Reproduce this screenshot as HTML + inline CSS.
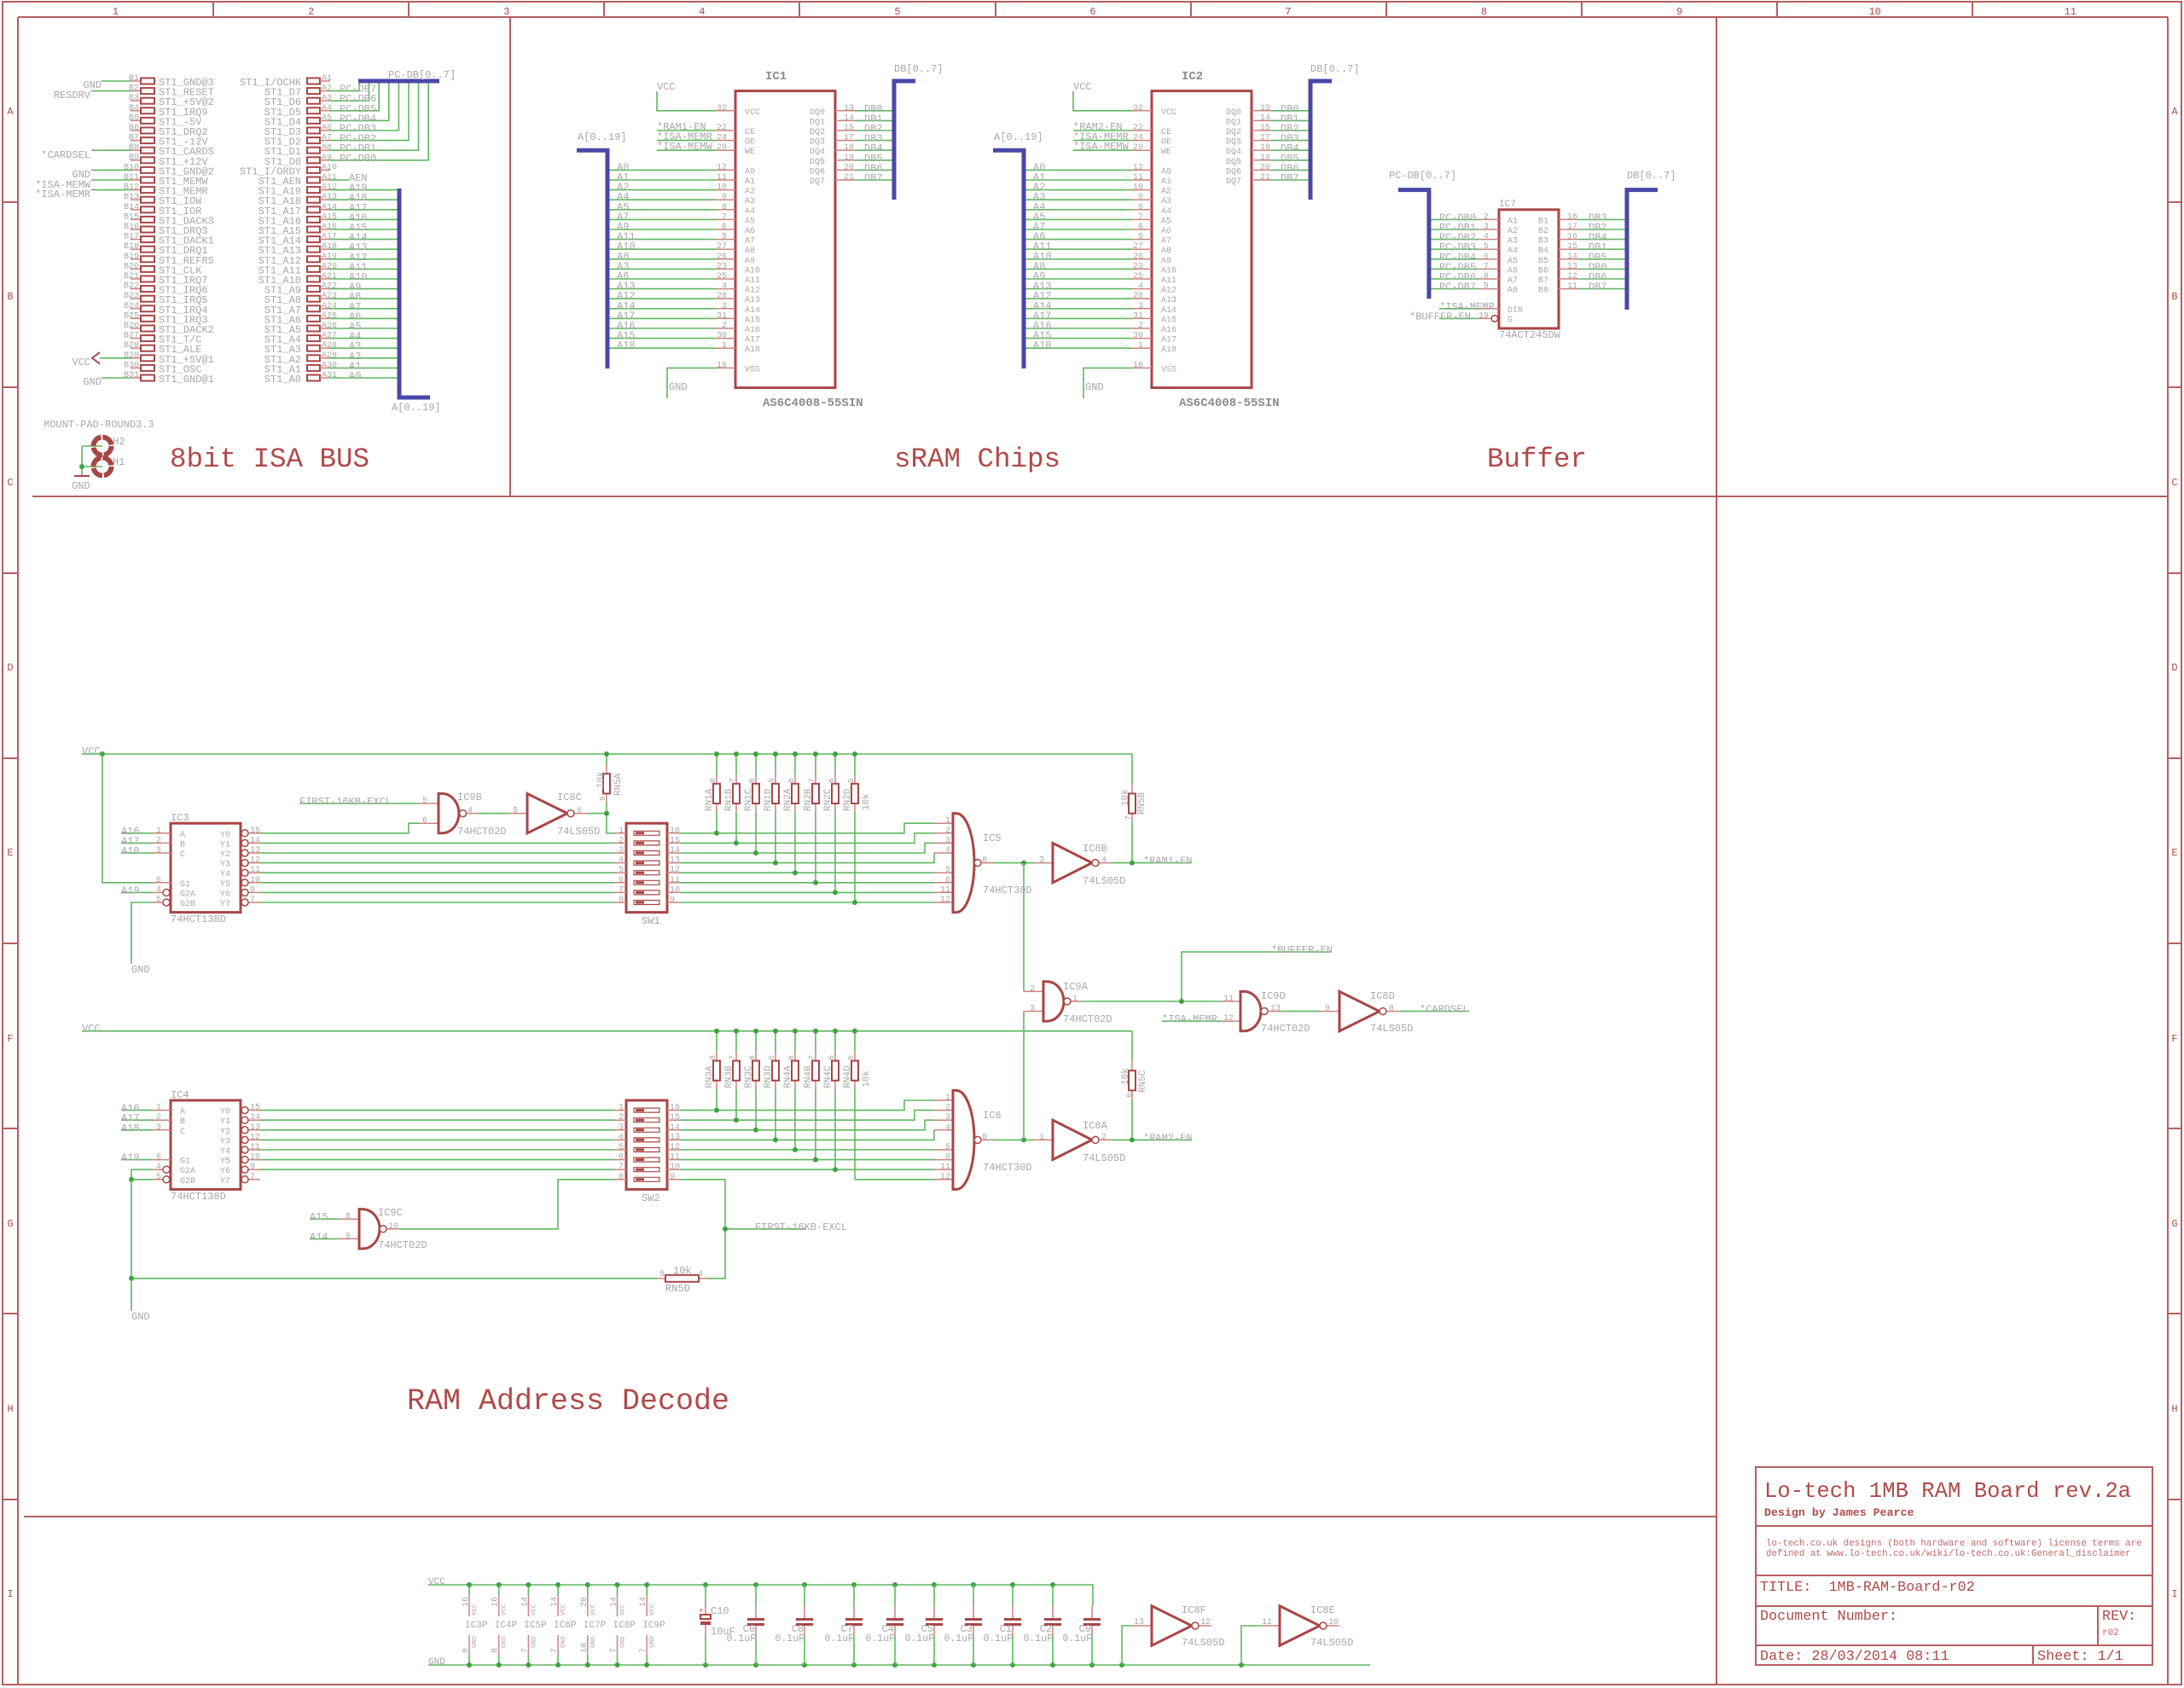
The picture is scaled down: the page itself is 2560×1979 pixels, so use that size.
<!DOCTYPE html>
<html><head><meta charset="utf-8"><style>
html,body{margin:0;padding:0;background:#fff;width:2560px;height:1979px;overflow:hidden}
svg{display:block}
text{font-family:"Liberation Mono",monospace;fill:#a8a8a8;font-size:12px}
.fr{stroke:#b65f5f;stroke-width:2;fill:none}
.sy{stroke:#a84646;stroke-width:3;fill:none}
.sy2{stroke:#a84646;stroke-width:2;fill:none}
.bb{stroke:#a84646;stroke-width:1.5;fill:#fff}
.pn{stroke:#cc8484;stroke-width:1.5;fill:none}
.nt{stroke:#5fb85f;stroke-width:1.6;fill:none}
.bs{stroke:#4848a8;stroke-width:5;fill:none}
.dt{fill:#3fa33f}
.rf{fill:#a84646}
.swi{stroke:#a84646;stroke-width:1.2;fill:none}
.s7{font-size:7.5px}.s9{font-size:9.5px}.s10{font-size:10px}.s11{font-size:11px}.s14{font-size:14px}
.r{text-anchor:end}.m{text-anchor:middle}
.red{fill:#b04a4a}
.dk{fill:#8c8c8c;font-weight:bold}
</style></head><body>
<svg width="2560" height="1979" viewBox="0 0 2560 1979" xmlns="http://www.w3.org/2000/svg">
<rect x="0" y="0" width="2560" height="1979" fill="#fff"/>
<defs>
<g id="ir"><line x1="153" y1="0" x2="165" y2="0" class="pn"/><rect x="165" y="-3.5" width="16" height="7" class="sy2"/><rect x="360" y="-3.5" width="15" height="7" class="sy2"/><line x1="375" y1="0" x2="387" y2="0" class="pn"/></g>
<g id="sr">
<rect x="862" y="106.6" width="117" height="348" class="sy"/>
<path class="pn" d="M839,129.8H862M839,153H862M839,164.6H862M839,176.2H862M839,199.4H862M839,211H862M839,222.6H862M839,234.2H862M839,245.8H862M839,257.4H862M839,269H862M839,280.6H862M839,292.2H862M839,303.8H862M839,315.4H862M839,327H862M839,338.6H862M839,350.2H862M839,361.8H862M839,373.4H862M839,385H862M839,396.6H862M839,408.2H862M839,431.4H862M979,129.8H1002M979,141.4H1002M979,153H1002M979,164.6H1002M979,176.2H1002M979,187.8H1002M979,199.4H1002M979,211H1002"/>
<path class="nt" d="M712,199.4H839M712,211H839M712,222.6H839M712,234.2H839M712,245.8H839M712,257.4H839M712,269H839M712,280.6H839M712,292.2H839M712,303.8H839M712,315.4H839M712,327H839M712,338.6H839M712,350.2H839M712,361.8H839M712,373.4H839M712,385H839M712,396.6H839M712,408.2H839M770,107V129.8H839M770,153H839M770,164.6H839M770,176.2H839M839,431.4H782V467M1002,129.8H1048M1002,141.4H1048M1002,153H1048M1002,164.6H1048M1002,176.2H1048M1002,187.8H1048M1002,199.4H1048M1002,211H1048"/>
<path class="bs" d="M676,176.2H712V432M1073,95H1048V234"/>
</g>
<g id="dh">
<rect x="734" y="965.2" width="48" height="104.4" class="sy"/>
<path class="swi" d="M743,974.3h30v5h-30zM743,985.9h30v5h-30zM743,997.5h30v5h-30zM743,1009.1h30v5h-30zM743,1020.7h30v5h-30zM743,1032.3h30v5h-30zM743,1043.9h30v5h-30zM743,1055.5h30v5h-30z"/>
<path class="rf" d="M745,975.3h10v3h-10zM745,986.9h10v3h-10zM745,998.5h10v3h-10zM745,1010.1h10v3h-10zM745,1021.7h10v3h-10zM745,1033.3h10v3h-10zM745,1044.9h10v3h-10zM745,1056.5h10v3h-10z"/>
<path class="pn" d="M720,976.8H734M720,988.4H734M720,1000H734M720,1011.6H734M720,1023.2H734M720,1034.8H734M720,1046.4H734M720,1058H734M782,976.8H797M782,988.4H797M782,1000H797M782,1011.6H797M782,1023.2H797M782,1034.8H797M782,1046.4H797M782,1058H797"/>
<path class="nt" d="M840,884V908.8M840,952V976.8M863,884V908.8M863,952V988.4M886,884V908.8M886,952V1000M909,884V908.8M909,952V1011.6M932,884V908.8M932,952V1023.2M956,884V908.8M956,952V1034.8M979,884V908.8M979,952V1046.4M1002,884V908.8M1002,952V1058"/>
<path class="pn" d="M840,908.8V918.8M840,942V952M863,908.8V918.8M863,942V952M886,908.8V918.8M886,942V952M909,908.8V918.8M909,942V952M932,908.8V918.8M932,942V952M956,908.8V918.8M956,942V952M979,908.8V918.8M979,942V952M1002,908.8V918.8M1002,942V952"/>
<rect x="836" y="918.8" width="8" height="23.2" class="sy2"/><rect x="859" y="918.8" width="8" height="23.2" class="sy2"/><rect x="882" y="918.8" width="8" height="23.2" class="sy2"/><rect x="905" y="918.8" width="8" height="23.2" class="sy2"/><rect x="928" y="918.8" width="8" height="23.2" class="sy2"/><rect x="952" y="918.8" width="8" height="23.2" class="sy2"/><rect x="975" y="918.8" width="8" height="23.2" class="sy2"/><rect x="998" y="918.8" width="8" height="23.2" class="sy2"/>
<path class="nt" d="M797,976.8H1060V965.2H1095M797,988.4H1072V976.8H1095M797,1000H1084V988.4H1095M797,1011.6H1095V1000M797,1023.2H1095M797,1034.8H1095M797,1046.4H1095"/>
<path class="pn" d="M1095,965.2H1117M1095,976.8H1117M1095,988.4H1117M1095,1000H1117M1095,1023.2H1117M1095,1034.8H1117M1095,1046.4H1117M1095,1058H1117"/>
<path class="sy" d="M1117,953.6H1121A21,58 0 0 1 1121,1069.6H1117Z"/>
<circle cx="1146" cy="1011.6" r="4" class="bb"/>
<path class="pn" d="M1150,1011.6H1164M1212,1011.6H1234M1288,1011.6H1303"/>
<path class="nt" d="M1164,1011.6H1212M1303,1011.6H1397"/>
<path class="sy" d="M1234,988.4L1234,1034.8L1280,1011.6Z"/>
<circle cx="1284" cy="1011.6" r="4" class="bb"/>
<path class="nt" d="M1327,884V920.4M1327,963.6V1011.6"/>
<path class="pn" d="M1327,920.4V930.4M1327,953.6V963.6"/>
<rect x="1323" y="930.4" width="8" height="23.2" class="sy2"/>
<path class="nt" d="M96,884H1327"/>
<rect x="200" y="965.2" width="82" height="104.4" class="sy"/>
<path class="pn" d="M179,976.8H200M179,988.4H200M179,1000H200M179,1034.8H200M179,1046.4H191M179,1058H191M291,976.8H305M291,988.4H305M291,1000H305M291,1011.6H305M291,1023.2H305M291,1034.8H305M291,1046.4H305M291,1058H305"/>
<circle cx="195" cy="1046.4" r="4" class="bb"/><circle cx="195" cy="1058" r="4" class="bb"/>
<circle cx="287" cy="976.8" r="4" class="bb"/><circle cx="287" cy="988.4" r="4" class="bb"/><circle cx="287" cy="1000" r="4" class="bb"/><circle cx="287" cy="1011.6" r="4" class="bb"/><circle cx="287" cy="1023.2" r="4" class="bb"/><circle cx="287" cy="1034.8" r="4" class="bb"/><circle cx="287" cy="1046.4" r="4" class="bb"/><circle cx="287" cy="1058" r="4" class="bb"/>
<path class="nt" d="M305,988.4H720M305,1000H720M305,1011.6H720M305,1023.2H720M305,1034.8H720M305,1046.4H720"/>
<g class="dt"><circle cx="840" cy="884" r="3"/><circle cx="863" cy="884" r="3"/><circle cx="886" cy="884" r="3"/><circle cx="909" cy="884" r="3"/><circle cx="932" cy="884" r="3"/><circle cx="956" cy="884" r="3"/><circle cx="979" cy="884" r="3"/><circle cx="1002" cy="884" r="3"/>
<circle cx="840" cy="976.8" r="3"/><circle cx="863" cy="988.4" r="3"/><circle cx="886" cy="1000" r="3"/><circle cx="909" cy="1011.6" r="3"/><circle cx="932" cy="1023.2" r="3"/><circle cx="956" cy="1034.8" r="3"/><circle cx="979" cy="1046.4" r="3"/>
<circle cx="1200" cy="1011.6" r="3"/><circle cx="1327" cy="1011.6" r="3"/></g>
</g>
</defs>

<!-- FRAME -->
<rect x="3" y="2" width="2554" height="1973" class="fr"/>
<path class="fr" d="M21,20H2541M21,20V1975M2541,20V1975M250,2V20M479,2V20M708,2V20M937,2V20M1167,2V20M1396,2V20M1625,2V20M1854,2V20M2083,2V20M2312,2V20M3,237H21M3,454H21M3,672H21M3,889H21M3,1106H21M3,1323H21M3,1540H21M3,1758H21M2541,237H2557M2541,454H2557M2541,672H2557M2541,889H2557M2541,1106H2557M2541,1323H2557M2541,1540H2557M2541,1758H2557"/>
<path class="fr" d="M598,20V582M38,582H2541M2012,20V1975M28,1778H2012"/>
<g class="red m" style="font-size:17px">
<text x="135.5" y="17" class="red m">1</text><text x="364.7" y="17" class="red m">2</text><text x="593.8" y="17" class="red m">3</text><text x="822.9" y="17" class="red m">4</text><text x="1052" y="17" class="red m">5</text><text x="1281" y="17" class="red m">6</text><text x="1510" y="17" class="red m">7</text><text x="1739.5" y="17" class="red m">8</text><text x="1968.6" y="17" class="red m">9</text><text x="2197.7" y="17" class="red m">10</text><text x="2426.8" y="17" class="red m">11</text>
</g>
<g style="font-size:17px">
<text x="12" y="134" class="red m">A</text><text x="12" y="351" class="red m">B</text><text x="12" y="569" class="red m">C</text><text x="12" y="786" class="red m">D</text><text x="12" y="1003" class="red m">E</text><text x="12" y="1221" class="red m">F</text><text x="12" y="1438" class="red m">G</text><text x="12" y="1655" class="red m">H</text><text x="12" y="1872" class="red m">I</text>
<text x="2549" y="134" class="red m">A</text><text x="2549" y="351" class="red m">B</text><text x="2549" y="569" class="red m">C</text><text x="2549" y="786" class="red m">D</text><text x="2549" y="1003" class="red m">E</text><text x="2549" y="1221" class="red m">F</text><text x="2549" y="1438" class="red m">G</text><text x="2549" y="1655" class="red m">H</text><text x="2549" y="1872" class="red m">I</text>
</g>

<!-- TITLE BLOCK -->
<rect x="2058" y="1720" width="465" height="232" class="fr"/>
<path class="fr" d="M2058,1789H2523M2058,1847H2523M2058,1883H2523M2058,1929H2523M2459,1883V1929M2383,1929V1952"/>
<text x="2068" y="1755" class="red" style="font-size:25.6px">Lo-tech 1MB RAM Board rev.2a</text>
<text x="2068" y="1777" class="red" style="font-size:13.3px;font-weight:bold">Design by James Pearce</text>
<text x="2070" y="1812" style="font-size:10.8px;fill:#c06a6a">lo-tech.co.uk designs (both hardware and software) license terms are</text>
<text x="2070" y="1824" style="font-size:10.8px;fill:#c06a6a">defined at www.lo-tech.co.uk/wiki/lo-tech.co.uk:General_disclaimer</text>
<text x="2063" y="1865" class="red" style="font-size:16.8px">TITLE:&#160; 1MB-RAM-Board-r02</text>
<text x="2063" y="1899" class="red" style="font-size:16.8px">Document Number:</text>
<text x="2464" y="1899" class="red" style="font-size:16.8px">REV:</text>
<text x="2464" y="1917" style="font-size:11px;fill:#c06a6a">r02</text>
<text x="2063" y="1946" class="red" style="font-size:16.8px">Date: 28/03/2014 08:11</text>
<text x="2388" y="1946" class="red" style="font-size:16.8px">Sheet: 1/1</text>

<!-- SECTION TITLES -->
<text x="199" y="547" class="red" style="font-size:32.5px">8bit ISA BUS</text>
<text x="1048" y="547" class="red" style="font-size:32.5px">sRAM Chips</text>
<text x="1743" y="547" class="red" style="font-size:32.5px">Buffer</text>
<text x="477" y="1652" class="red" style="font-size:35px">RAM Address Decode</text>

<!-- ISA CONNECTOR -->
<use href="#ir" y="95"/><use href="#ir" y="106.6"/><use href="#ir" y="118.2"/><use href="#ir" y="129.8"/><use href="#ir" y="141.4"/><use href="#ir" y="153"/><use href="#ir" y="164.6"/><use href="#ir" y="176.2"/><use href="#ir" y="187.8"/><use href="#ir" y="199.4"/><use href="#ir" y="211"/><use href="#ir" y="222.6"/><use href="#ir" y="234.2"/><use href="#ir" y="245.8"/><use href="#ir" y="257.4"/><use href="#ir" y="269"/><use href="#ir" y="280.6"/><use href="#ir" y="292.2"/><use href="#ir" y="303.8"/><use href="#ir" y="315.4"/><use href="#ir" y="327"/><use href="#ir" y="338.6"/><use href="#ir" y="350.2"/><use href="#ir" y="361.8"/><use href="#ir" y="373.4"/><use href="#ir" y="385"/><use href="#ir" y="396.6"/><use href="#ir" y="408.2"/><use href="#ir" y="419.8"/><use href="#ir" y="431.4"/><use href="#ir" y="443"/>
<path class="nt" d="M119,95H153M107,106.6H153M107,176.2H153M107,199.4H153M107,211H153M107,222.6H153M117,419.8H153M119,443H153"/>
<polyline points="117,413 108,419.8 117,426.6" class="sy2"/>
<text x="119" y="103" class="r">GND</text>
<text x="106" y="115" class="r">RESDRV</text>
<text x="106" y="185" class="r">*CARDSEL</text>
<text x="106" y="208" class="r">GND</text>
<text x="106" y="220" class="r">*ISA-MEMW</text>
<text x="106" y="231" class="r">*ISA-MEMR</text>
<text x="106" y="428" class="r">VCC</text>
<text x="119" y="451" class="r">GND</text>
<path class="nt" d="M387,106.6H421V95M387,118.2H432.6V95M387,129.8H444.2V95M387,141.4H455.8V95M387,153H467.4V95M387,164.6H479V95M387,176.2H490.6V95M387,187.8H502.2V95M387,211H409M387,222.6H468M387,234.2H468M387,245.8H468M387,257.4H468M387,269H468M387,280.6H468M387,292.2H468M387,303.8H468M387,315.4H468M387,327H468M387,338.6H468M387,350.2H468M387,361.8H468M387,373.4H468M387,385H468M387,396.6H468M387,408.2H468M387,419.8H468M387,431.4H468M387,443H468"/>
<path class="bs" d="M420,95H515M468,221V466H504"/>
<text x="455" y="91">PC-DB[0..7]</text>
<text x="459" y="481">A[0..19]</text>
<g transform="translate(0,95)"><text x="163" y="-1" class="s10 r">B1</text><text x="186" y="5">ST1_GND@3</text><text x="353" y="5" class="r">ST1_I/OCHK</text><text x="377" y="-1" class="s10">A1</text></g>
<g transform="translate(0,106.6)"><text x="163" y="-1" class="s10 r">B2</text><text x="186" y="5">ST1_RESET</text><text x="353" y="5" class="r">ST1_D7</text><text x="377" y="-1" class="s10">A2</text><text x="398" y="1">PC-DB7</text></g>
<g transform="translate(0,118.2)"><text x="163" y="-1" class="s10 r">B3</text><text x="186" y="5">ST1_+5V@2</text><text x="353" y="5" class="r">ST1_D6</text><text x="377" y="-1" class="s10">A3</text><text x="398" y="1">PC-DB6</text></g>
<g transform="translate(0,129.8)"><text x="163" y="-1" class="s10 r">B4</text><text x="186" y="5">ST1_IRQ9</text><text x="353" y="5" class="r">ST1_D5</text><text x="377" y="-1" class="s10">A4</text><text x="398" y="1">PC-DB5</text></g>
<g transform="translate(0,141.4)"><text x="163" y="-1" class="s10 r">B5</text><text x="186" y="5">ST1_-5V</text><text x="353" y="5" class="r">ST1_D4</text><text x="377" y="-1" class="s10">A5</text><text x="398" y="1">PC-DB4</text></g>
<g transform="translate(0,153)"><text x="163" y="-1" class="s10 r">B6</text><text x="186" y="5">ST1_DRQ2</text><text x="353" y="5" class="r">ST1_D3</text><text x="377" y="-1" class="s10">A6</text><text x="398" y="1">PC-DB3</text></g>
<g transform="translate(0,164.6)"><text x="163" y="-1" class="s10 r">B7</text><text x="186" y="5">ST1_-12V</text><text x="353" y="5" class="r">ST1_D2</text><text x="377" y="-1" class="s10">A7</text><text x="398" y="1">PC-DB2</text></g>
<g transform="translate(0,176.2)"><text x="163" y="-1" class="s10 r">B8</text><text x="186" y="5">ST1_CARDS</text><text x="353" y="5" class="r">ST1_D1</text><text x="377" y="-1" class="s10">A8</text><text x="398" y="1">PC-DB1</text></g>
<g transform="translate(0,187.8)"><text x="163" y="-1" class="s10 r">B9</text><text x="186" y="5">ST1_+12V</text><text x="353" y="5" class="r">ST1_D0</text><text x="377" y="-1" class="s10">A9</text><text x="398" y="1">PC-DB0</text></g>
<g transform="translate(0,199.4)"><text x="163" y="-1" class="s10 r">B10</text><text x="186" y="5">ST1_GND@2</text><text x="353" y="5" class="r">ST1_I/ORDY</text><text x="377" y="-1" class="s10">A10</text></g>
<g transform="translate(0,211)"><text x="163" y="-1" class="s10 r">B11</text><text x="186" y="5">ST1_MEMW</text><text x="353" y="5" class="r">ST1_AEN</text><text x="377" y="-1" class="s10">A11</text><text x="409" y="1">AEN</text></g>
<g transform="translate(0,222.6)"><text x="163" y="-1" class="s10 r">B12</text><text x="186" y="5">ST1_MEMR</text><text x="353" y="5" class="r">ST1_A19</text><text x="377" y="-1" class="s10">A12</text><text x="409" y="1">A19</text></g>
<g transform="translate(0,234.2)"><text x="163" y="-1" class="s10 r">B13</text><text x="186" y="5">ST1_IOW</text><text x="353" y="5" class="r">ST1_A18</text><text x="377" y="-1" class="s10">A13</text><text x="409" y="1">A18</text></g>
<g transform="translate(0,245.8)"><text x="163" y="-1" class="s10 r">B14</text><text x="186" y="5">ST1_IOR</text><text x="353" y="5" class="r">ST1_A17</text><text x="377" y="-1" class="s10">A14</text><text x="409" y="1">A17</text></g>
<g transform="translate(0,257.4)"><text x="163" y="-1" class="s10 r">B15</text><text x="186" y="5">ST1_DACK3</text><text x="353" y="5" class="r">ST1_A16</text><text x="377" y="-1" class="s10">A15</text><text x="409" y="1">A16</text></g>
<g transform="translate(0,269)"><text x="163" y="-1" class="s10 r">B16</text><text x="186" y="5">ST1_DRQ3</text><text x="353" y="5" class="r">ST1_A15</text><text x="377" y="-1" class="s10">A16</text><text x="409" y="1">A15</text></g>
<g transform="translate(0,280.6)"><text x="163" y="-1" class="s10 r">B17</text><text x="186" y="5">ST1_DACK1</text><text x="353" y="5" class="r">ST1_A14</text><text x="377" y="-1" class="s10">A17</text><text x="409" y="1">A14</text></g>
<g transform="translate(0,292.2)"><text x="163" y="-1" class="s10 r">B18</text><text x="186" y="5">ST1_DRQ1</text><text x="353" y="5" class="r">ST1_A13</text><text x="377" y="-1" class="s10">A18</text><text x="409" y="1">A13</text></g>
<g transform="translate(0,303.8)"><text x="163" y="-1" class="s10 r">B19</text><text x="186" y="5">ST1_REFRS</text><text x="353" y="5" class="r">ST1_A12</text><text x="377" y="-1" class="s10">A19</text><text x="409" y="1">A12</text></g>
<g transform="translate(0,315.4)"><text x="163" y="-1" class="s10 r">B20</text><text x="186" y="5">ST1_CLK</text><text x="353" y="5" class="r">ST1_A11</text><text x="377" y="-1" class="s10">A20</text><text x="409" y="1">A11</text></g>
<g transform="translate(0,327)"><text x="163" y="-1" class="s10 r">B21</text><text x="186" y="5">ST1_IRQ7</text><text x="353" y="5" class="r">ST1_A10</text><text x="377" y="-1" class="s10">A21</text><text x="409" y="1">A10</text></g>
<g transform="translate(0,338.6)"><text x="163" y="-1" class="s10 r">B22</text><text x="186" y="5">ST1_IRQ6</text><text x="353" y="5" class="r">ST1_A9</text><text x="377" y="-1" class="s10">A22</text><text x="409" y="1">A9</text></g>
<g transform="translate(0,350.2)"><text x="163" y="-1" class="s10 r">B23</text><text x="186" y="5">ST1_IRQ5</text><text x="353" y="5" class="r">ST1_A8</text><text x="377" y="-1" class="s10">A23</text><text x="409" y="1">A8</text></g>
<g transform="translate(0,361.8)"><text x="163" y="-1" class="s10 r">B24</text><text x="186" y="5">ST1_IRQ4</text><text x="353" y="5" class="r">ST1_A7</text><text x="377" y="-1" class="s10">A24</text><text x="409" y="1">A7</text></g>
<g transform="translate(0,373.4)"><text x="163" y="-1" class="s10 r">B25</text><text x="186" y="5">ST1_IRQ3</text><text x="353" y="5" class="r">ST1_A6</text><text x="377" y="-1" class="s10">A25</text><text x="409" y="1">A6</text></g>
<g transform="translate(0,385)"><text x="163" y="-1" class="s10 r">B26</text><text x="186" y="5">ST1_DACK2</text><text x="353" y="5" class="r">ST1_A5</text><text x="377" y="-1" class="s10">A26</text><text x="409" y="1">A5</text></g>
<g transform="translate(0,396.6)"><text x="163" y="-1" class="s10 r">B27</text><text x="186" y="5">ST1_T/C</text><text x="353" y="5" class="r">ST1_A4</text><text x="377" y="-1" class="s10">A27</text><text x="409" y="1">A4</text></g>
<g transform="translate(0,408.2)"><text x="163" y="-1" class="s10 r">B28</text><text x="186" y="5">ST1_ALE</text><text x="353" y="5" class="r">ST1_A3</text><text x="377" y="-1" class="s10">A28</text><text x="409" y="1">A3</text></g>
<g transform="translate(0,419.8)"><text x="163" y="-1" class="s10 r">B29</text><text x="186" y="5">ST1_+5V@1</text><text x="353" y="5" class="r">ST1_A2</text><text x="377" y="-1" class="s10">A29</text><text x="409" y="1">A2</text></g>
<g transform="translate(0,431.4)"><text x="163" y="-1" class="s10 r">B30</text><text x="186" y="5">ST1_OSC</text><text x="353" y="5" class="r">ST1_A1</text><text x="377" y="-1" class="s10">A30</text><text x="409" y="1">A1</text></g>
<g transform="translate(0,443)"><text x="163" y="-1" class="s10 r">B31</text><text x="186" y="5">ST1_GND@1</text><text x="353" y="5" class="r">ST1_A0</text><text x="377" y="-1" class="s10">A31</text><text x="409" y="1">A0</text></g>

<!-- MOUNT PAD -->
<text x="51" y="501">MOUNT-PAD-ROUND3.3</text>
<path class="nt" d="M96,523H120M96,547H120M96,523V558"/>
<circle cx="120" cy="523" r="10.5" style="stroke:#a84646;stroke-width:6;fill:none;stroke-dasharray:14.5 2"/>
<circle cx="120" cy="547" r="10.5" style="stroke:#a84646;stroke-width:6;fill:none;stroke-dasharray:14.5 2"/>
<circle cx="96" cy="547" r="3" class="dt"/>
<line x1="87" y1="558" x2="105" y2="558" class="sy2"/>
<text x="84" y="573">GND</text>
<text x="132" y="521">H2</text>
<text x="132" y="545">H1</text>

<!-- SRAM IC1 -->
<use href="#sr"/>
<g>
<text x="897" y="93" class="s14 dk">IC1</text>
<text x="894" y="476" class="s14 dk">AS6C4008-55SIN</text>
<text x="770" y="105">VCC</text>
<text x="770" y="152">*RAM1-EN</text>
<text x="770" y="163.6">*ISA-MEMR</text>
<text x="770" y="175.2">*ISA-MEMW</text>
<text x="784" y="457">GND</text>
<text x="677" y="164">A[0..19]</text>
<text x="1048" y="84">DB[0..7]</text>
<text class="s10 r"><tspan x="852" y="128.8">32</tspan><tspan x="852" y="152">22</tspan><tspan x="852" y="163.6">24</tspan><tspan x="852" y="175.2">29</tspan><tspan x="852" y="198.4">12</tspan><tspan x="852" y="210">11</tspan><tspan x="852" y="221.6">10</tspan><tspan x="852" y="233.2">9</tspan><tspan x="852" y="244.8">8</tspan><tspan x="852" y="256.4">7</tspan><tspan x="852" y="268">6</tspan><tspan x="852" y="279.6">5</tspan><tspan x="852" y="291.2">27</tspan><tspan x="852" y="302.8">26</tspan><tspan x="852" y="314.4">23</tspan><tspan x="852" y="326">25</tspan><tspan x="852" y="337.6">4</tspan><tspan x="852" y="349.2">28</tspan><tspan x="852" y="360.8">3</tspan><tspan x="852" y="372.4">31</tspan><tspan x="852" y="384">2</tspan><tspan x="852" y="395.6">30</tspan><tspan x="852" y="407.2">1</tspan><tspan x="852" y="430.4">16</tspan></text>
<text><tspan x="723" y="199.4">A0</tspan><tspan x="723" y="211">A1</tspan><tspan x="723" y="222.6">A2</tspan><tspan x="723" y="234.2">A4</tspan><tspan x="723" y="245.8">A5</tspan><tspan x="723" y="257.4">A7</tspan><tspan x="723" y="269">A9</tspan><tspan x="723" y="280.6">A11</tspan><tspan x="723" y="292.2">A10</tspan><tspan x="723" y="303.8">A8</tspan><tspan x="723" y="315.4">A3</tspan><tspan x="723" y="327">A6</tspan><tspan x="723" y="338.6">A13</tspan><tspan x="723" y="350.2">A12</tspan><tspan x="723" y="361.8">A14</tspan><tspan x="723" y="373.4">A17</tspan><tspan x="723" y="385">A16</tspan><tspan x="723" y="396.6">A15</tspan><tspan x="723" y="408.2">A18</tspan></text>
<text class="s10"><tspan x="873" y="133.8">VCC</tspan><tspan x="873" y="157">CE</tspan><tspan x="873" y="168.6">OE</tspan><tspan x="873" y="180.2">WE</tspan><tspan x="873" y="203.4">A0</tspan><tspan x="873" y="215">A1</tspan><tspan x="873" y="226.6">A2</tspan><tspan x="873" y="238.2">A3</tspan><tspan x="873" y="249.8">A4</tspan><tspan x="873" y="261.4">A5</tspan><tspan x="873" y="273">A6</tspan><tspan x="873" y="284.6">A7</tspan><tspan x="873" y="296.2">A8</tspan><tspan x="873" y="307.8">A9</tspan><tspan x="873" y="319.4">A10</tspan><tspan x="873" y="331">A11</tspan><tspan x="873" y="342.6">A12</tspan><tspan x="873" y="354.2">A13</tspan><tspan x="873" y="365.8">A14</tspan><tspan x="873" y="377.4">A15</tspan><tspan x="873" y="389">A16</tspan><tspan x="873" y="400.6">A17</tspan><tspan x="873" y="412.2">A18</tspan><tspan x="873" y="435.4">VSS</tspan></text>
<text class="s10"><tspan x="949" y="133.8">DQ0</tspan><tspan x="949" y="145.4">DQ1</tspan><tspan x="949" y="157">DQ2</tspan><tspan x="949" y="168.6">DQ3</tspan><tspan x="949" y="180.2">DQ4</tspan><tspan x="949" y="191.8">DQ5</tspan><tspan x="949" y="203.4">DQ6</tspan><tspan x="949" y="215">DQ7</tspan></text>
<text class="s10"><tspan x="989" y="128.8">13</tspan><tspan x="989" y="140.4">14</tspan><tspan x="989" y="152">15</tspan><tspan x="989" y="163.6">17</tspan><tspan x="989" y="175.2">18</tspan><tspan x="989" y="186.8">19</tspan><tspan x="989" y="198.4">20</tspan><tspan x="989" y="210">21</tspan></text>
<text><tspan x="1013" y="130.8">DB0</tspan><tspan x="1013" y="142.4">DB1</tspan><tspan x="1013" y="154">DB2</tspan><tspan x="1013" y="165.6">DB3</tspan><tspan x="1013" y="177.2">DB4</tspan><tspan x="1013" y="188.8">DB5</tspan><tspan x="1013" y="200.4">DB6</tspan><tspan x="1013" y="212">DB7</tspan></text>
</g>

<!-- SRAM IC2 -->
<use href="#sr" x="488"/>
<g transform="translate(488,0)">
<text x="897" y="93" class="s14 dk">IC2</text>
<text x="894" y="476" class="s14 dk">AS6C4008-55SIN</text>
<text x="770" y="105">VCC</text>
<text x="770" y="152">*RAM2-EN</text>
<text x="770" y="163.6">*ISA-MEMR</text>
<text x="770" y="175.2">*ISA-MEMW</text>
<text x="784" y="457">GND</text>
<text x="677" y="164">A[0..19]</text>
<text x="1048" y="84">DB[0..7]</text>
<text class="s10 r"><tspan x="852" y="128.8">32</tspan><tspan x="852" y="152">22</tspan><tspan x="852" y="163.6">24</tspan><tspan x="852" y="175.2">29</tspan><tspan x="852" y="198.4">12</tspan><tspan x="852" y="210">11</tspan><tspan x="852" y="221.6">10</tspan><tspan x="852" y="233.2">9</tspan><tspan x="852" y="244.8">8</tspan><tspan x="852" y="256.4">7</tspan><tspan x="852" y="268">6</tspan><tspan x="852" y="279.6">5</tspan><tspan x="852" y="291.2">27</tspan><tspan x="852" y="302.8">26</tspan><tspan x="852" y="314.4">23</tspan><tspan x="852" y="326">25</tspan><tspan x="852" y="337.6">4</tspan><tspan x="852" y="349.2">28</tspan><tspan x="852" y="360.8">3</tspan><tspan x="852" y="372.4">31</tspan><tspan x="852" y="384">2</tspan><tspan x="852" y="395.6">30</tspan><tspan x="852" y="407.2">1</tspan><tspan x="852" y="430.4">16</tspan></text>
<text><tspan x="723" y="199.4">A0</tspan><tspan x="723" y="211">A1</tspan><tspan x="723" y="222.6">A2</tspan><tspan x="723" y="234.2">A3</tspan><tspan x="723" y="245.8">A4</tspan><tspan x="723" y="257.4">A5</tspan><tspan x="723" y="269">A7</tspan><tspan x="723" y="280.6">A6</tspan><tspan x="723" y="292.2">A11</tspan><tspan x="723" y="303.8">A10</tspan><tspan x="723" y="315.4">A8</tspan><tspan x="723" y="327">A9</tspan><tspan x="723" y="338.6">A13</tspan><tspan x="723" y="350.2">A12</tspan><tspan x="723" y="361.8">A14</tspan><tspan x="723" y="373.4">A17</tspan><tspan x="723" y="385">A16</tspan><tspan x="723" y="396.6">A15</tspan><tspan x="723" y="408.2">A18</tspan></text>
<text class="s10"><tspan x="873" y="133.8">VCC</tspan><tspan x="873" y="157">CE</tspan><tspan x="873" y="168.6">OE</tspan><tspan x="873" y="180.2">WE</tspan><tspan x="873" y="203.4">A0</tspan><tspan x="873" y="215">A1</tspan><tspan x="873" y="226.6">A2</tspan><tspan x="873" y="238.2">A3</tspan><tspan x="873" y="249.8">A4</tspan><tspan x="873" y="261.4">A5</tspan><tspan x="873" y="273">A6</tspan><tspan x="873" y="284.6">A7</tspan><tspan x="873" y="296.2">A8</tspan><tspan x="873" y="307.8">A9</tspan><tspan x="873" y="319.4">A10</tspan><tspan x="873" y="331">A11</tspan><tspan x="873" y="342.6">A12</tspan><tspan x="873" y="354.2">A13</tspan><tspan x="873" y="365.8">A14</tspan><tspan x="873" y="377.4">A15</tspan><tspan x="873" y="389">A16</tspan><tspan x="873" y="400.6">A17</tspan><tspan x="873" y="412.2">A18</tspan><tspan x="873" y="435.4">VSS</tspan></text>
<text class="s10"><tspan x="949" y="133.8">DQ0</tspan><tspan x="949" y="145.4">DQ1</tspan><tspan x="949" y="157">DQ2</tspan><tspan x="949" y="168.6">DQ3</tspan><tspan x="949" y="180.2">DQ4</tspan><tspan x="949" y="191.8">DQ5</tspan><tspan x="949" y="203.4">DQ6</tspan><tspan x="949" y="215">DQ7</tspan></text>
<text class="s10"><tspan x="989" y="128.8">13</tspan><tspan x="989" y="140.4">14</tspan><tspan x="989" y="152">15</tspan><tspan x="989" y="163.6">17</tspan><tspan x="989" y="175.2">18</tspan><tspan x="989" y="186.8">19</tspan><tspan x="989" y="198.4">20</tspan><tspan x="989" y="210">21</tspan></text>
<text><tspan x="1013" y="130.8">DB0</tspan><tspan x="1013" y="142.4">DB1</tspan><tspan x="1013" y="154">DB2</tspan><tspan x="1013" y="165.6">DB3</tspan><tspan x="1013" y="177.2">DB4</tspan><tspan x="1013" y="188.8">DB5</tspan><tspan x="1013" y="200.4">DB6</tspan><tspan x="1013" y="212">DB7</tspan></text>
</g>

<!-- BUFFER IC7 -->
<rect x="1757" y="245.8" width="70" height="139.2" class="sy"/>
<path class="pn" d="M1733,257.4H1757M1733,269H1757M1733,280.6H1757M1733,292.2H1757M1733,303.8H1757M1733,315.4H1757M1733,327H1757M1733,338.6H1757M1733,361.8H1757M1733,373.4H1748M1827,257.4H1850M1827,269H1850M1827,280.6H1850M1827,292.2H1850M1827,303.8H1850M1827,315.4H1850M1827,327H1850M1827,338.6H1850"/>
<circle cx="1752" cy="373.4" r="3.8" class="bb"/>
<path class="nt" d="M1675,257.4H1733M1675,269H1733M1675,280.6H1733M1675,292.2H1733M1675,303.8H1733M1675,315.4H1733M1675,327H1733M1675,338.6H1733M1687,361.8H1733M1687,373.4H1733M1850,257.4H1907M1850,269H1907M1850,280.6H1907M1850,292.2H1907M1850,303.8H1907M1850,315.4H1907M1850,327H1907M1850,338.6H1907"/>
<path class="bs" d="M1639,222.6H1675V350.2M1943,222.6H1907V363"/>
<text x="1628" y="209">PC-DB[0..7]</text>
<text x="1907" y="209">DB[0..7]</text>
<text x="1757" y="242" class="s11">IC7</text>
<text x="1757" y="396">74ACT245DW</text>
<text class="s10"><tspan x="1739" y="256.4">2</tspan><tspan x="1739" y="268">3</tspan><tspan x="1739" y="279.6">4</tspan><tspan x="1739" y="291.2">5</tspan><tspan x="1739" y="302.8">6</tspan><tspan x="1739" y="314.4">7</tspan><tspan x="1739" y="326">8</tspan><tspan x="1739" y="337.6">9</tspan><tspan x="1733" y="372.4">19</tspan></text>
<text><tspan x="1687" y="258.4">PC-DB0</tspan><tspan x="1687" y="270">PC-DB1</tspan><tspan x="1687" y="281.6">PC-DB2</tspan><tspan x="1687" y="293.2">PC-DB3</tspan><tspan x="1687" y="304.8">PC-DB4</tspan><tspan x="1687" y="316.4">PC-DB5</tspan><tspan x="1687" y="328">PC-DB6</tspan><tspan x="1687" y="339.6">PC-DB7</tspan><tspan x="1687" y="362.8">*ISA-MEMR</tspan><tspan x="1652" y="374.4">*BUFFER-EN</tspan></text>
<text class="s10"><tspan x="1767" y="261.4">A1</tspan><tspan x="1767" y="273">A2</tspan><tspan x="1767" y="284.6">A3</tspan><tspan x="1767" y="296.2">A4</tspan><tspan x="1767" y="307.8">A5</tspan><tspan x="1767" y="319.4">A6</tspan><tspan x="1767" y="331">A7</tspan><tspan x="1767" y="342.6">A8</tspan><tspan x="1767" y="365.8">DIR</tspan><tspan x="1767" y="377.4">G</tspan><tspan x="1803" y="261.4">B1</tspan><tspan x="1803" y="273">B2</tspan><tspan x="1803" y="284.6">B3</tspan><tspan x="1803" y="296.2">B4</tspan><tspan x="1803" y="307.8">B5</tspan><tspan x="1803" y="319.4">B6</tspan><tspan x="1803" y="331">B7</tspan><tspan x="1803" y="342.6">B8</tspan></text>
<text class="s10"><tspan x="1837" y="256.4">18</tspan><tspan x="1837" y="268">17</tspan><tspan x="1837" y="279.6">16</tspan><tspan x="1837" y="291.2">15</tspan><tspan x="1837" y="302.8">14</tspan><tspan x="1837" y="314.4">13</tspan><tspan x="1837" y="326">12</tspan><tspan x="1837" y="337.6">11</tspan></text>
<text><tspan x="1862" y="258.4">DB3</tspan><tspan x="1862" y="270">DB2</tspan><tspan x="1862" y="281.6">DB4</tspan><tspan x="1862" y="293.2">DB1</tspan><tspan x="1862" y="304.8">DB5</tspan><tspan x="1862" y="316.4">DB0</tspan><tspan x="1862" y="328">DB6</tspan><tspan x="1862" y="339.6">DB7</tspan></text>

<!-- DECODE TOP HALF -->
<use href="#dh"/>
<circle cx="120" cy="884" r="3" class="dt"/>
<path class="nt" d="M120,884V1034.8H179M142,976.8H179M142,988.4H179M142,1000H179M142,1046.4H179M179,1058H154V1130M305,976.8H479V965.2H491M305,1058H720M351,942H491M560,953.6H597M688,953.6H711M711,884V897.2M711,940.4V976.8H720M797,1058H1095M1200,1011.6V1162.4"/>
<path class="pn" d="M491,942H514M491,965.2H514M546.5,953.6H560M597,953.6H618M673,953.6H688M711,897.2V907.2M711,930.4V940.4"/>
<path class="sy" d="M514,930.4H518A20,23.2 0 0 1 518,976.8H514Z"/>
<circle cx="542.5" cy="953.6" r="4" class="bb"/>
<path class="sy" d="M618,930.4L618,976.8L665,953.6Z"/>
<circle cx="669" cy="953.6" r="4" class="bb"/>
<rect x="707" y="907.2" width="8" height="23.2" class="sy2"/>
<g class="dt"><circle cx="711" cy="884" r="3"/><circle cx="711" cy="953.6" r="3"/><circle cx="1002" cy="1058" r="3"/></g>
<text x="96" y="884">VCC</text>
<text x="154" y="1140">GND</text>
<text x="200" y="962">IC3</text>
<text x="200" y="1081">74HCT138D</text>
<text class="s10"><tspan x="211" y="980.8">A</tspan><tspan x="211" y="992.4">B</tspan><tspan x="211" y="1004">C</tspan><tspan x="211" y="1038.8">G1</tspan><tspan x="211" y="1050.4">G2A</tspan><tspan x="211" y="1062">G2B</tspan><tspan x="258" y="980.8">Y0</tspan><tspan x="258" y="992.4">Y1</tspan><tspan x="258" y="1004">Y2</tspan><tspan x="258" y="1015.6">Y3</tspan><tspan x="258" y="1027.2">Y4</tspan><tspan x="258" y="1038.8">Y5</tspan><tspan x="258" y="1050.4">Y6</tspan><tspan x="258" y="1062">Y7</tspan></text>
<text class="s10"><tspan x="183" y="975.8">1</tspan><tspan x="183" y="987.4">2</tspan><tspan x="183" y="999">3</tspan><tspan x="183" y="1033.8">6</tspan><tspan x="183" y="1045.4">4</tspan><tspan x="183" y="1057">5</tspan><tspan x="293" y="975.8">15</tspan><tspan x="293" y="987.4">14</tspan><tspan x="293" y="999">13</tspan><tspan x="293" y="1010.6">12</tspan><tspan x="293" y="1022.2">11</tspan><tspan x="293" y="1033.8">10</tspan><tspan x="293" y="1045.4">9</tspan><tspan x="293" y="1057">7</tspan></text>
<text><tspan x="142" y="977.8">A16</tspan><tspan x="142" y="989.4">A17</tspan><tspan x="142" y="1001">A18</tspan><tspan x="142" y="1047.4">A19</tspan></text>
<text x="351" y="943">FIRST-16KB-EXCL</text>
<text class="s10"><tspan x="495" y="941">5</tspan><tspan x="495" y="964.2">6</tspan><tspan x="548" y="952.6">4</tspan><tspan x="601" y="952.6">5</tspan><tspan x="676" y="952.6">6</tspan></text>
<text x="536" y="938">IC9B</text><text x="536" y="978">74HCT02D</text>
<text x="653" y="938">IC8C</text><text x="653" y="978">74LS05D</text>
<text transform="translate(707,924) rotate(-90)" class="s11">10k</text>
<text transform="translate(727,933) rotate(-90)" class="s11">RN5A</text>
<text transform="translate(709,939) rotate(-90)" class="s9">8</text>
<text class="s10 r"><tspan x="731" y="975.8">1</tspan><tspan x="731" y="987.4">2</tspan><tspan x="731" y="999">3</tspan><tspan x="731" y="1010.6">4</tspan><tspan x="731" y="1022.2">5</tspan><tspan x="731" y="1033.8">6</tspan><tspan x="731" y="1045.4">7</tspan><tspan x="731" y="1057">8</tspan></text>
<text class="s10"><tspan x="785" y="975.8">16</tspan><tspan x="785" y="987.4">15</tspan><tspan x="785" y="999">14</tspan><tspan x="785" y="1010.6">13</tspan><tspan x="785" y="1022.2">12</tspan><tspan x="785" y="1033.8">11</tspan><tspan x="785" y="1045.4">10</tspan><tspan x="785" y="1057">9</tspan></text>
<text x="752" y="1083">SW1</text>
<text transform="translate(834,951) rotate(-90)" class="s11">RN1A</text>
<text transform="translate(857,951) rotate(-90)" class="s11">RN1B</text>
<text transform="translate(880,951) rotate(-90)" class="s11">RN1C</text>
<text transform="translate(903,951) rotate(-90)" class="s11">RN1D</text>
<text transform="translate(926,951) rotate(-90)" class="s11">RN2A</text>
<text transform="translate(950,951) rotate(-90)" class="s11">RN2B</text>
<text transform="translate(973,951) rotate(-90)" class="s11">RN2C</text>
<text transform="translate(996,951) rotate(-90)" class="s11">RN2D</text>
<text transform="translate(1018,950) rotate(-90)" class="s11">10k</text>
<text transform="translate(838,918) rotate(-90)" class="s9">8</text><text transform="translate(861,918) rotate(-90)" class="s9">7</text><text transform="translate(884,918) rotate(-90)" class="s9">6</text><text transform="translate(907,918) rotate(-90)" class="s9">5</text><text transform="translate(930,918) rotate(-90)" class="s9">8</text><text transform="translate(954,918) rotate(-90)" class="s9">7</text><text transform="translate(977,918) rotate(-90)" class="s9">6</text><text transform="translate(1000,918) rotate(-90)" class="s9">5</text>
<text x="1152" y="986">IC5</text><text x="1152" y="1047">74HCT30D</text>
<text class="s10 r"><tspan x="1114" y="964.2">1</tspan><tspan x="1114" y="975.8">2</tspan><tspan x="1114" y="987.4">3</tspan><tspan x="1114" y="999">4</tspan><tspan x="1114" y="1022.2">5</tspan><tspan x="1114" y="1033.8">6</tspan><tspan x="1114" y="1045.4">11</tspan><tspan x="1114" y="1057">12</tspan></text>
<text class="s10"><tspan x="1151" y="1010.6">8</tspan><tspan x="1218" y="1010.6">3</tspan><tspan x="1291" y="1010.6">4</tspan></text>
<text x="1269" y="998">IC8B</text><text x="1269" y="1036">74LS05D</text>
<text x="1340" y="1012.6">*RAM1-EN</text>
<text transform="translate(1322,945) rotate(-90)" class="s11">10k</text>
<text transform="translate(1341,955) rotate(-90)" class="s11">RN5B</text>
<text transform="translate(1325,962) rotate(-90)" class="s9">7</text>

<!-- MIDDLE GATES -->
<path class="pn" d="M1200,1162.4H1223M1200,1185.6H1223M1255,1174H1267M1432,1174H1454M1432,1197.2H1454M1487,1185.6H1501M1548,1185.6H1570M1625,1185.6H1641"/>
<path class="sy" d="M1223,1150.8H1227A20,23.2 0 0 1 1227,1197.2H1223Z"/>
<circle cx="1251" cy="1174" r="4" class="bb"/>
<path class="nt" d="M1267,1174H1432M1385,1174V1116H1559M1362,1197.2H1432M1501,1185.6H1548M1641,1185.6H1722"/>
<circle cx="1385" cy="1174" r="3" class="dt"/>
<path class="sy" d="M1454,1162.4H1458A20,23.2 0 0 1 1458,1208.8H1454Z"/>
<circle cx="1482" cy="1185.6" r="4" class="bb"/>
<path class="sy" d="M1570,1162.4L1570,1208.8L1617,1185.6Z"/>
<circle cx="1621" cy="1185.6" r="4" class="bb"/>
<text class="s10"><tspan x="1207" y="1161.4">2</tspan><tspan x="1207" y="1184.6">3</tspan><tspan x="1257" y="1173">1</tspan><tspan x="1434" y="1173">11</tspan><tspan x="1434" y="1196.2">12</tspan><tspan x="1489" y="1184.6">13</tspan><tspan x="1553" y="1184.6">9</tspan><tspan x="1628" y="1184.6">8</tspan></text>
<text x="1246" y="1160">IC9A</text><text x="1246" y="1198">74HCT02D</text>
<text x="1478" y="1171">IC9D</text><text x="1478" y="1209">74HCT02D</text>
<text x="1606" y="1171">IC8D</text><text x="1606" y="1209">74LS05D</text>
<text x="1490" y="1117">*BUFFER-EN</text>
<text x="1362" y="1198.2">*ISA-MEMR</text>
<text x="1664" y="1186.6">*CARDSEL</text>

<!-- DECODE BOTTOM HALF -->
<use href="#dh" y="324.8"/>
<path class="nt" d="M142,1301.6H179M142,1313.2H179M142,1324.8H179M142,1359.6H179M179,1371.2H154V1537M154,1382.8H179M305,1301.6H720M1002,1382.8H1095M1200,1185.6V1336.4M363,1429.2H397M363,1452.4H397M468,1440.8H654V1382.8H720M797,1382.8H850V1498.8H829M850,1440.8H945M770,1498.8H154"/>
<path class="pn" d="M397,1429.2H421M397,1452.4H421M453,1440.8H468M829,1498.8H819M780,1498.8H770"/>
<path class="sy" d="M421,1417.6H425A20,23.2 0 0 1 425,1464H421Z"/>
<circle cx="449" cy="1440.8" r="4" class="bb"/>
<rect x="780" y="1494.8" width="39" height="8" class="sy2"/>
<g class="dt"><circle cx="154" cy="1382.8" r="3"/><circle cx="154" cy="1498.8" r="3"/><circle cx="850" cy="1440.8" r="3"/><circle cx="1002" cy="1382.8" r="0"/></g>
<text x="96" y="1208.8">VCC</text>
<text x="154" y="1547">GND</text>
<text x="200" y="1286.8">IC4</text>
<text x="200" y="1405.8">74HCT138D</text>
<text class="s10"><tspan x="211" y="1305.6">A</tspan><tspan x="211" y="1317.2">B</tspan><tspan x="211" y="1328.8">C</tspan><tspan x="211" y="1363.6">G1</tspan><tspan x="211" y="1375.2">G2A</tspan><tspan x="211" y="1386.8">G2B</tspan><tspan x="258" y="1305.6">Y0</tspan><tspan x="258" y="1317.2">Y1</tspan><tspan x="258" y="1328.8">Y2</tspan><tspan x="258" y="1340.4">Y3</tspan><tspan x="258" y="1352">Y4</tspan><tspan x="258" y="1363.6">Y5</tspan><tspan x="258" y="1375.2">Y6</tspan><tspan x="258" y="1386.8">Y7</tspan></text>
<text class="s10"><tspan x="183" y="1300.6">1</tspan><tspan x="183" y="1312.2">2</tspan><tspan x="183" y="1323.8">3</tspan><tspan x="183" y="1358.6">6</tspan><tspan x="183" y="1370.2">4</tspan><tspan x="183" y="1381.8">5</tspan><tspan x="293" y="1300.6">15</tspan><tspan x="293" y="1312.2">14</tspan><tspan x="293" y="1323.8">13</tspan><tspan x="293" y="1335.4">12</tspan><tspan x="293" y="1347">11</tspan><tspan x="293" y="1358.6">10</tspan><tspan x="293" y="1370.2">9</tspan><tspan x="293" y="1381.8">7</tspan></text>
<text><tspan x="142" y="1302.6">A16</tspan><tspan x="142" y="1314.2">A17</tspan><tspan x="142" y="1325.8">A18</tspan><tspan x="142" y="1360.6">A19</tspan></text>
<text><tspan x="363" y="1430.2">A15</tspan><tspan x="363" y="1453.4">A14</tspan></text>
<text class="s10"><tspan x="405" y="1428.2">8</tspan><tspan x="405" y="1451.4">9</tspan><tspan x="455" y="1439.8">10</tspan></text>
<text x="443" y="1425">IC9C</text><text x="443" y="1463">74HCT02D</text>
<text x="885" y="1441.8">FIRST-16KB-EXCL</text>
<text class="s10"><tspan x="773" y="1496">5</tspan><tspan x="818" y="1496">4</tspan></text>
<text x="789" y="1493">10k</text>
<text x="780" y="1514">RN5D</text>
<text class="s10 r"><tspan x="731" y="1300.6">1</tspan><tspan x="731" y="1312.2">2</tspan><tspan x="731" y="1323.8">3</tspan><tspan x="731" y="1335.4">4</tspan><tspan x="731" y="1347">5</tspan><tspan x="731" y="1358.6">6</tspan><tspan x="731" y="1370.2">7</tspan><tspan x="731" y="1381.8">8</tspan></text>
<text class="s10"><tspan x="785" y="1300.6">16</tspan><tspan x="785" y="1312.2">15</tspan><tspan x="785" y="1323.8">14</tspan><tspan x="785" y="1335.4">13</tspan><tspan x="785" y="1347">12</tspan><tspan x="785" y="1358.6">11</tspan><tspan x="785" y="1370.2">10</tspan><tspan x="785" y="1381.8">9</tspan></text>
<text x="752" y="1407.8">SW2</text>
<text transform="translate(834,1275.8) rotate(-90)" class="s11">RN3A</text>
<text transform="translate(857,1275.8) rotate(-90)" class="s11">RN3B</text>
<text transform="translate(880,1275.8) rotate(-90)" class="s11">RN3C</text>
<text transform="translate(903,1275.8) rotate(-90)" class="s11">RN3D</text>
<text transform="translate(926,1275.8) rotate(-90)" class="s11">RN4A</text>
<text transform="translate(950,1275.8) rotate(-90)" class="s11">RN4B</text>
<text transform="translate(973,1275.8) rotate(-90)" class="s11">RN4C</text>
<text transform="translate(996,1275.8) rotate(-90)" class="s11">RN4D</text>
<text transform="translate(1018,1274.8) rotate(-90)" class="s11">10k</text>
<text transform="translate(838,1242.8) rotate(-90)" class="s9">8</text><text transform="translate(861,1242.8) rotate(-90)" class="s9">7</text><text transform="translate(884,1242.8) rotate(-90)" class="s9">6</text><text transform="translate(907,1242.8) rotate(-90)" class="s9">5</text><text transform="translate(930,1242.8) rotate(-90)" class="s9">8</text><text transform="translate(954,1242.8) rotate(-90)" class="s9">7</text><text transform="translate(977,1242.8) rotate(-90)" class="s9">6</text><text transform="translate(1000,1242.8) rotate(-90)" class="s9">5</text>
<text x="1152" y="1310.8">IC6</text><text x="1152" y="1371.8">74HCT30D</text>
<text class="s10 r"><tspan x="1114" y="1289">1</tspan><tspan x="1114" y="1300.6">2</tspan><tspan x="1114" y="1312.2">3</tspan><tspan x="1114" y="1323.8">4</tspan><tspan x="1114" y="1347">5</tspan><tspan x="1114" y="1358.6">6</tspan><tspan x="1114" y="1370.2">11</tspan><tspan x="1114" y="1381.8">12</tspan></text>
<text class="s10"><tspan x="1151" y="1335.4">8</tspan><tspan x="1218" y="1335.4">1</tspan><tspan x="1291" y="1335.4">2</tspan></text>
<text x="1269" y="1322.8">IC8A</text><text x="1269" y="1360.8">74LS05D</text>
<text x="1340" y="1337.4">*RAM2-EN</text>
<text transform="translate(1322,1272) rotate(-90)" class="s11">10k</text>
<text transform="translate(1342,1281) rotate(-90)" class="s11">RN5C</text>
<text transform="translate(1326,1287) rotate(-90)" class="s9">6</text>

<!-- POWER -->
<path class="nt" d="M502,1858H1281V1883M502,1952H1606"/>
<text x="502" y="1857" class="s11">VCC</text>
<text x="502" y="1951" class="s11">GND</text>
<path class="nt" d="M550,1858V1870M550,1940V1952M584.7,1858V1870M584.7,1940V1952M619.4,1858V1870M619.4,1940V1952M654.1,1858V1870M654.1,1940V1952M688.8,1858V1870M688.8,1940V1952M723.5,1858V1870M723.5,1940V1952M758.2,1858V1870M758.2,1940V1952"/>
<path class="pn" d="M550,1870V1895M550,1917V1940M584.7,1870V1895M584.7,1917V1940M619.4,1870V1895M619.4,1917V1940M654.1,1870V1895M654.1,1917V1940M688.8,1870V1895M688.8,1917V1940M723.5,1870V1895M723.5,1917V1940M758.2,1870V1895M758.2,1917V1940"/>
<g class="dt"><circle cx="550" cy="1858" r="3"/><circle cx="550" cy="1952" r="3"/><circle cx="584.7" cy="1858" r="3"/><circle cx="584.7" cy="1952" r="3"/><circle cx="619.4" cy="1858" r="3"/><circle cx="619.4" cy="1952" r="3"/><circle cx="654.1" cy="1858" r="3"/><circle cx="654.1" cy="1952" r="3"/><circle cx="688.8" cy="1858" r="3"/><circle cx="688.8" cy="1952" r="3"/><circle cx="723.5" cy="1858" r="3"/><circle cx="723.5" cy="1952" r="3"/><circle cx="758.2" cy="1858" r="3"/><circle cx="758.2" cy="1952" r="3"/>
<circle cx="827" cy="1858" r="3"/><circle cx="827" cy="1952" r="3"/>
<circle cx="886" cy="1858" r="3"/><circle cx="886" cy="1952" r="3"/><circle cx="943" cy="1858" r="3"/><circle cx="943" cy="1952" r="3"/><circle cx="1001" cy="1858" r="3"/><circle cx="1001" cy="1952" r="3"/><circle cx="1049" cy="1858" r="3"/><circle cx="1049" cy="1952" r="3"/><circle cx="1095" cy="1858" r="3"/><circle cx="1095" cy="1952" r="3"/><circle cx="1141" cy="1858" r="3"/><circle cx="1141" cy="1952" r="3"/><circle cx="1187" cy="1858" r="3"/><circle cx="1187" cy="1952" r="3"/><circle cx="1234" cy="1858" r="3"/><circle cx="1234" cy="1952" r="3"/><circle cx="1280" cy="1952" r="3"/>
<circle cx="1315" cy="1952" r="3"/><circle cx="1455" cy="1952" r="3"/></g>
<text class="s11"><tspan x="545" y="1908">IC3P</tspan><tspan x="579.7" y="1908">IC4P</tspan><tspan x="614.4" y="1908">IC5P</tspan><tspan x="649.1" y="1908">IC6P</tspan><tspan x="683.8" y="1908">IC7P</tspan><tspan x="718.5" y="1908">IC8P</tspan><tspan x="753.2" y="1908">IC9P</tspan></text>
<text transform="translate(548,1884) rotate(-90)" class="s10">16</text><text transform="translate(558,1894) rotate(-90)" class="s7">VCC</text><text transform="translate(548,1938) rotate(-90)" class="s10">8</text><text transform="translate(558,1932) rotate(-90)" class="s7">GND</text>
<text transform="translate(582.7,1884) rotate(-90)" class="s10">16</text><text transform="translate(592.7,1894) rotate(-90)" class="s7">VCC</text><text transform="translate(582.7,1938) rotate(-90)" class="s10">8</text><text transform="translate(592.7,1932) rotate(-90)" class="s7">GND</text>
<text transform="translate(617.4,1884) rotate(-90)" class="s10">14</text><text transform="translate(627.4,1894) rotate(-90)" class="s7">VCC</text><text transform="translate(617.4,1938) rotate(-90)" class="s10">7</text><text transform="translate(627.4,1932) rotate(-90)" class="s7">GND</text>
<text transform="translate(652.1,1884) rotate(-90)" class="s10">14</text><text transform="translate(662.1,1894) rotate(-90)" class="s7">VCC</text><text transform="translate(652.1,1938) rotate(-90)" class="s10">7</text><text transform="translate(662.1,1932) rotate(-90)" class="s7">GND</text>
<text transform="translate(686.8,1884) rotate(-90)" class="s10">20</text><text transform="translate(696.8,1894) rotate(-90)" class="s7">VCC</text><text transform="translate(686.8,1938) rotate(-90)" class="s10">10</text><text transform="translate(696.8,1932) rotate(-90)" class="s7">GND</text>
<text transform="translate(721.5,1884) rotate(-90)" class="s10">14</text><text transform="translate(731.5,1894) rotate(-90)" class="s7">VCC</text><text transform="translate(721.5,1938) rotate(-90)" class="s10">7</text><text transform="translate(731.5,1932) rotate(-90)" class="s7">GND</text>
<text transform="translate(756.2,1884) rotate(-90)" class="s10">14</text><text transform="translate(766.2,1894) rotate(-90)" class="s7">VCC</text><text transform="translate(756.2,1938) rotate(-90)" class="s10">7</text><text transform="translate(766.2,1932) rotate(-90)" class="s7">GND</text>
<!-- C10 -->
<path class="nt" d="M827,1858V1883M827,1917V1952"/>
<path class="pn" d="M827,1883V1893M827,1905V1917"/>
<rect x="821" y="1893" width="12" height="5" class="sy2"/>
<rect x="821" y="1901" width="12" height="4" class="rf"/>
<text x="819" y="1891" class="s9 red">+</text>
<text x="833" y="1892">C10</text>
<text x="833" y="1916">10uF</text>
<!-- caps -->
<path class="nt" d="M886,1858V1883M886,1917V1952M943,1858V1883M943,1917V1952M1001,1858V1883M1001,1917V1952M1049,1858V1883M1049,1917V1952M1095,1858V1883M1095,1917V1952M1141,1858V1883M1141,1917V1952M1187,1858V1883M1187,1917V1952M1234,1858V1883M1234,1917V1952M1280,1917V1952"/>
<path class="pn" d="M886,1883V1897M886,1906V1917M943,1883V1897M943,1906V1917M1001,1883V1897M1001,1906V1917M1049,1883V1897M1049,1906V1917M1095,1883V1897M1095,1906V1917M1141,1883V1897M1141,1906V1917M1187,1883V1897M1187,1906V1917M1234,1883V1897M1234,1906V1917M1280,1883V1897M1280,1906V1917"/>
<path class="rf" d="M876,1897h20v3h-20zM876,1903h20v3h-20zM933,1897h20v3h-20zM933,1903h20v3h-20zM991,1897h20v3h-20zM991,1903h20v3h-20zM1039,1897h20v3h-20zM1039,1903h20v3h-20zM1085,1897h20v3h-20zM1085,1903h20v3h-20zM1131,1897h20v3h-20zM1131,1903h20v3h-20zM1177,1897h20v3h-20zM1177,1903h20v3h-20zM1224,1897h20v3h-20zM1224,1903h20v3h-20zM1270,1897h20v3h-20zM1270,1903h20v3h-20z"/>
<text class="r"><tspan x="885" y="1913">C6</tspan><tspan x="942" y="1913">C8</tspan><tspan x="1000" y="1913">C7</tspan><tspan x="1048" y="1913">C4</tspan><tspan x="1094" y="1913">C5</tspan><tspan x="1140" y="1913">C3</tspan><tspan x="1186" y="1913">C1</tspan><tspan x="1233" y="1913">C2</tspan><tspan x="1279" y="1913">C9</tspan></text>
<text class="r" style="font-size:11.5px"><tspan x="886" y="1924">0.1uF</tspan><tspan x="943" y="1924">0.1uF</tspan><tspan x="1001" y="1924">0.1uF</tspan><tspan x="1049" y="1924">0.1uF</tspan><tspan x="1095" y="1924">0.1uF</tspan><tspan x="1141" y="1924">0.1uF</tspan><tspan x="1187" y="1924">0.1uF</tspan><tspan x="1234" y="1924">0.1uF</tspan><tspan x="1280" y="1924">0.1uF</tspan></text>
<!-- IC8F / IC8E -->
<path class="nt" d="M1315,1952V1906H1327M1455,1952V1906H1478"/>
<path class="pn" d="M1327,1906H1350M1405,1906H1420M1478,1906H1500M1555,1906H1570"/>
<path class="sy" d="M1350,1882.8L1350,1929.2L1397,1906ZM1500,1882.8L1500,1929.2L1547,1906Z"/>
<circle cx="1401" cy="1906" r="4" class="bb"/><circle cx="1551" cy="1906" r="4" class="bb"/>
<text class="s10"><tspan x="1329" y="1904">13</tspan><tspan x="1407" y="1904">12</tspan><tspan x="1479" y="1904">11</tspan><tspan x="1557" y="1904">10</tspan></text>
<text x="1385" y="1891">IC8F</text><text x="1385" y="1929">74LS05D</text>
<text x="1536" y="1891">IC8E</text><text x="1536" y="1929">74LS05D</text>
</svg>
</body></html>
